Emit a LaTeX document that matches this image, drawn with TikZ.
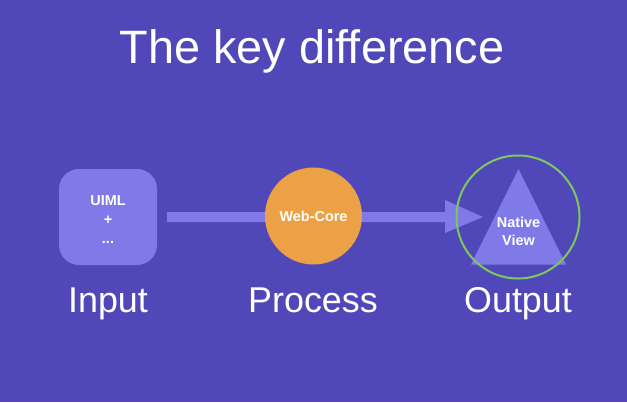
\documentclass[tikz,border=0pt]{standalone}
\usepackage{fontspec}
\setmainfont{Liberation Sans}
\usetikzlibrary{shapes.geometric}
\definecolor{bg}{RGB}{80,72,185}
\definecolor{lav}{RGB}{128,121,232}
\definecolor{orng}{RGB}{237,161,70}
\definecolor{grn}{RGB}{125,200,95}
\tikzset{
  bigtxt/.style={text=white,font=\fontsize{36}{40}\selectfont,inner sep=0pt,anchor=base},
  smalltxt/.style={text=white,font=\bfseries\fontsize{14.5}{16}\selectfont,inner sep=0pt},
}
\begin{document}
\begin{tikzpicture}[x=1bp,y=-1bp]
\fill[bg] (0,0) rectangle (627,402);
\useasboundingbox (0,0) rectangle (627,402);
% title
\node[text=white,font=\fontsize{47}{50}\selectfont,inner sep=0pt,anchor=base] (title) at (312,63) {The key difference};
% input box
\node[fill=lav,rounded corners=20bp,minimum width=98bp,minimum height=96bp,inner sep=0pt] (box) at (108,217) {};
\node[smalltxt,anchor=base] (uiml) at (108,205) {UIML};
\node[smalltxt,anchor=base] (plus) at (108,224) {+};
\node[smalltxt,anchor=base] (dots) at (108,243) {...};
% arrow
\coordinate (bs) at (167,217);
\coordinate (hb) at (445,217);
\coordinate (tip) at (483,217);
\fill[lav] (167,212) -- (445,212) -- (445,200) -- (tip) -- (445,233) -- (445,222) -- (167,222) -- cycle;
% process circle
\node[circle,fill=orng,minimum size=97bp,inner sep=0pt] (proc) at (313.5,216) {};
\node[smalltxt] (wc) at (proc) {Web-Core};
% output triangle
\coordinate (apex) at (518.5,169);
\coordinate (bl) at (471,264.5);
\coordinate (br) at (566,264.5);
\fill[lav] (apex) -- (br) -- (bl) -- cycle;
\node[smalltxt,anchor=base] (nat) at (518.5,227) {Native};
\node[smalltxt,anchor=base] (view) at (518.5,245) {View};
\node[circle,draw=grn,line width=2bp,minimum size=123bp,inner sep=0pt] (gc) at (518,217) {};
% labels
\node[bigtxt] (lin) at (108,312) {Input};
\node[bigtxt] (lpr) at (313,312) {Process};
\node[bigtxt] (lout) at (518,312) {Output};
\end{tikzpicture}
\end{document}
